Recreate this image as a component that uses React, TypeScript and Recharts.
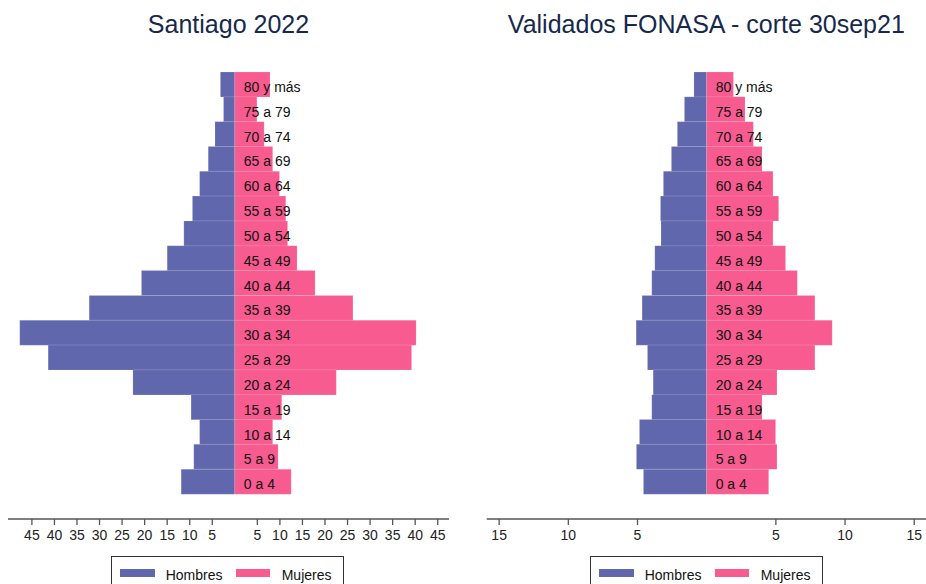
import React from 'react';
import { BarChart, Bar, XAxis, YAxis, LabelList } from 'recharts';

const ageGroups = [
  '80 y más', '75 a 79', '70 a 74', '65 a 69', '60 a 64', '55 a 59', '50 a 54', '45 a 49', '40 a 44',
  '35 a 39', '30 a 34', '25 a 29', '20 a 24', '15 a 19', '10 a 14', '5 a 9', '0 a 4',
];

const santiagoHombres = [3.2, 2.5, 4.4, 5.9, 7.8, 9.4, 11.3, 15.0, 20.7, 32.3, 47.7, 41.4, 22.6, 9.7, 7.8, 9.1, 11.9];
const santiagoMujeres = [7.8, 4.9, 6.5, 8.4, 9.9, 11.3, 11.7, 13.8, 17.8, 26.2, 40.2, 39.2, 22.5, 10.4, 8.4, 9.6, 12.5];

const fonasaHombres = [0.92, 1.61, 2.12, 2.55, 3.13, 3.34, 3.3, 3.75, 3.97, 4.67, 5.1, 4.28, 3.87, 3.97, 4.86, 5.08, 4.57];
const fonasaMujeres = [1.93, 2.77, 3.37, 4.0, 4.79, 5.2, 4.79, 5.7, 6.55, 7.82, 9.07, 7.82, 5.08, 4.0, 4.98, 5.08, 4.48];

const santiagoTicks = [-45, -40, -35, -30, -25, -20, -15, -10, -5, 5, 10, 15, 20, 25, 30, 35, 40, 45];
const fonasaTicks = [-15, -10, -5, 5, 10, 15];

const FONT = '"Liberation Sans", Arial, Helvetica, sans-serif';
const BLUE = '#6167ad';
const PINK = '#f75b8f';
const TITLE_COLOR = '#16294d';

interface PyramidProps {
  title: string;
  hombres: number[];
  mujeres: number[];
  ticks: number[];
  domain: [number, number];
  left: number;
  marginLeft: number;
  marginRight: number;
  legendLeft: number;
}

const AgeLabel = (props: any) => {
  const { x, y, height, value } = props;
  return (
    <text x={x + 9} y={y + height / 2 + 2.5} dominantBaseline="central" fontSize={14} fill="#111" fontFamily={FONT}>
      {value}
    </text>
  );
};

const Pyramid: React.FC<PyramidProps> = ({ title, hombres, mujeres, ticks, domain, left, marginLeft, marginRight, legendLeft }) => {
  const data = ageGroups.map((age, i) => ({ age, h: -hombres[i], m: mujeres[i] }));
  const width = 463;
  const plotWidth = width - marginLeft - marginRight;
  return (
    <div style={{ position: 'absolute', left, top: 0, width, height: 584 }}>
      <div
        style={{
          position: 'absolute',
          left: marginLeft,
          width: plotWidth,
          top: 12,
          lineHeight: '25px',
          fontSize: 25,
          textAlign: 'center',
          color: TITLE_COLOR,
          fontFamily: FONT,
          whiteSpace: 'nowrap',
        }}
      >
        {title}
      </div>
      <BarChart
        width={width}
        height={584}
        data={data}
        layout="vertical"
        stackOffset="sign"
        barCategoryGap={0}
        margin={{ top: 72, right: marginRight, bottom: 35, left: marginLeft }}
      >
        <XAxis
          type="number"
          domain={domain}
          ticks={ticks}
          interval={0}
          allowDataOverflow
          tickFormatter={(v: number) => String(Math.abs(v))}
          stroke="#555"
          strokeWidth={1.3}
          tick={{ fill: '#222', fontSize: 14, fontFamily: FONT }}
          tickSize={6}
          tickMargin={5}
          height={30}
        />
        <YAxis type="category" dataKey="age" hide width={0} padding={{ top: 0, bottom: 25 }} />
        <Bar dataKey="h" stackId="a" fill={BLUE} stroke="#ffffff" strokeOpacity={0.2} strokeWidth={0.7} isAnimationActive={false} />
        <Bar dataKey="m" stackId="a" fill={PINK} stroke="#ffffff" strokeOpacity={0.2} strokeWidth={0.7} isAnimationActive={false}>
          <LabelList dataKey="age" content={AgeLabel} />
        </Bar>
      </BarChart>
      <div
        style={{
          position: 'absolute',
          left: legendLeft,
          top: 556,
          width: 233,
          height: 40,
          border: '1px solid #333',
          boxSizing: 'border-box',
          fontFamily: FONT,
          fontSize: 14,
          color: '#111',
        }}
      >
        <div style={{ position: 'absolute', left: 8, top: 11.5, width: 35, height: 8, background: BLUE }} />
        <div style={{ position: 'absolute', left: 54, top: 10, lineHeight: '16px' }}>Hombres</div>
        <div style={{ position: 'absolute', left: 124, top: 11.5, width: 34, height: 8, background: PINK }} />
        <div style={{ position: 'absolute', left: 170, top: 10, lineHeight: '16px' }}>Mujeres</div>
      </div>
    </div>
  );
};

export default function App() {
  return (
    <div style={{ position: 'absolute', left: 0, top: 0, width: 926, height: 584, overflow: 'hidden', background: '#fff' }}>
      <Pyramid
        title="Santiago 2022"
        hombres={santiagoHombres}
        mujeres={santiagoMujeres}
        ticks={santiagoTicks}
        domain={[-50.3, 47.5]}
        left={0}
        marginLeft={8}
        marginRight={14}
        legendLeft={110.7}
      />
      <Pyramid
        title="Validados FONASA - corte 30sep21"
        hombres={fonasaHombres}
        mujeres={fonasaMujeres}
        ticks={fonasaTicks}
        domain={[-15.9, 15.85]}
        left={463}
        marginLeft={23.7}
        marginRight={0}
        legendLeft={126.7}
      />
    </div>
  );
}
